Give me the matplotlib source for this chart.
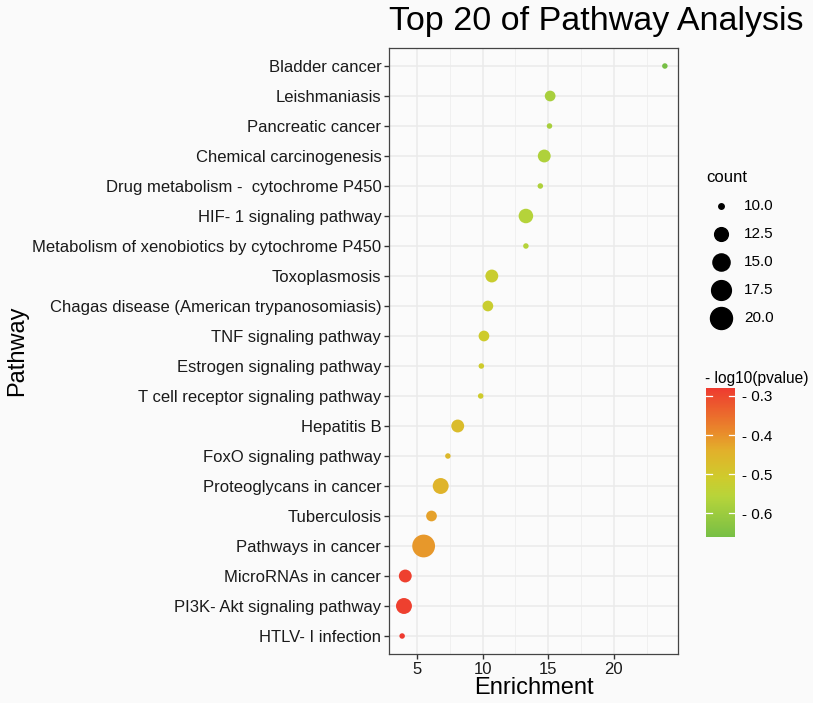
import numpy as np
import matplotlib
matplotlib.use("Agg")
import matplotlib.pyplot as plt
from matplotlib.colors import LinearSegmentedColormap, Normalize
from matplotlib.ticker import MultipleLocator

plt.rcParams['font.family'] = ['Liberation Sans', 'DejaVu Sans']

# pathways, top of the chart first
pathways = [
    "Bladder cancer", "Leishmaniasis", "Pancreatic cancer", "Chemical carcinogenesis",
    "Drug metabolism -  cytochrome P450", "HIF- 1 signaling pathway",
    "Metabolism of xenobiotics by cytochrome P450", "Toxoplasmosis",
    "Chagas disease (American trypanosomiasis)", "TNF signaling pathway",
    "Estrogen signaling pathway", "T cell receptor signaling pathway", "Hepatitis B",
    "FoxO signaling pathway", "Proteoglycans in cancer", "Tuberculosis",
    "Pathways in cancer", "MicroRNAs in cancer", "PI3K- Akt signaling pathway",
    "HTLV- I infection",
]
enrichment = [23.9, 15.15, 15.1, 14.7, 14.4, 13.3, 13.3, 10.7, 10.4, 10.1,
              9.9, 9.85, 8.1, 7.35, 6.8, 6.1, 5.5, 4.1, 4.0, 3.86]
count = [10, 11, 10, 12, 10, 13, 10, 12, 11, 11,
         10, 10, 12, 10, 14, 11, 21, 12, 14, 10]
logp = [-0.66, -0.58, -0.58, -0.57, -0.57, -0.56, -0.56, -0.52, -0.52, -0.51,
        -0.51, -0.51, -0.47, -0.46, -0.45, -0.42, -0.41, -0.29, -0.29, -0.28]

size_breaks = [10.0, 12.5, 15.0, 17.5, 20.0]
color_ticks = [-0.3, -0.4, -0.5, -0.6]
color_labels = ["- 0.3", "- 0.4", "- 0.5", "- 0.6"]

cmap = LinearSegmentedColormap.from_list("gr", [
    (0.0, "#77bf45"), (0.27, "#b7d43a"), (0.4, "#cfcb2c"),
    (0.58, "#e2b02b"), (0.7, "#e98c2b"), (1.0, "#ee3a2f")])

cmin, cmax = min(count), max(count)


def marker_area(c):
    # ggplot-like area scaling, diameter in px -> area in pt^2
    c = np.asarray(c, dtype=float)
    d_px = 5.5 + 17.3 * np.sqrt((c - cmin) / (cmax - cmin))
    return (d_px * 0.72) ** 2


fig = plt.figure(figsize=(8.13, 7.03), dpi=100, facecolor="#fafafa")
ax = fig.add_axes([389 / 813, 1 - 654 / 703, 289 / 813, 606 / 703])
ax.set_facecolor("#fbfbfb")

n = len(pathways)
ypos = np.arange(n)[::-1]
norm = Normalize(vmin=min(logp), vmax=max(logp))
sc = ax.scatter(enrichment, ypos, s=marker_area(count), c=logp, cmap=cmap,
                norm=norm, edgecolors="none", zorder=3)

span = max(enrichment) - min(enrichment)
ax.set_xlim(min(enrichment) - 0.05 * span, max(enrichment) + 0.05 * span)
ax.set_ylim(-0.6, n - 0.4)
ax.set_yticks(ypos)
ax.set_yticklabels(pathways)
ax.xaxis.set_major_locator(MultipleLocator(5))
ax.xaxis.set_minor_locator(MultipleLocator(2.5))
ax.grid(which="major", color="#ebebeb", linewidth=1.1, zorder=0)
ax.grid(which="minor", axis="x", color="#f0f0f0", linewidth=0.7, zorder=0)
ax.set_axisbelow(True)
ax.tick_params(axis="both", which="major", length=3.5, width=1.0, color="#333333",
               labelsize=12, labelcolor="#1a1a1a", pad=2)
ax.tick_params(axis="x", which="minor", length=0)
for sp in ax.spines.values():
    sp.set_color("#444444")
    sp.set_linewidth(0.9)

ax.set_xlabel("Enrichment", fontsize=17, labelpad=0)
ax.set_ylabel("Pathway", fontsize=17)
ax.yaxis.set_label_coords(-361 / 289, 0.5)
fig.text(389 / 813, 1 - 30 / 703, "Top 20 of Pathway Analysis", fontsize=24.5,
         ha="left", va="baseline")

# size legend
handles = [ax.scatter([], [], s=marker_area(b), color="black") for b in size_breaks]
leg = fig.legend(handles, [f"{b:.1f}" for b in size_breaks], title="count",
                 loc="upper left", bbox_to_anchor=(700 / 813, 1 - 164 / 703),
                 frameon=False, fontsize=11, title_fontsize=12,
                 labelspacing=0.92, handletextpad=0.5, borderaxespad=0,
                 alignment="left")

# colour legend
cax = fig.add_axes([706 / 813, 1 - 537 / 703, 29 / 813, 149 / 703])
cb = fig.colorbar(sc, cax=cax)
cb.outline.set_visible(False)
cb.set_ticks(color_ticks)
cb.set_ticklabels(color_labels)
cax.tick_params(length=0, labelsize=11, pad=5)
for t in color_ticks:
    cax.plot([0, 0.22], [t, t], color="white", lw=0.9, transform=cax.get_yaxis_transform())
    cax.plot([0.78, 1], [t, t], color="white", lw=0.9, transform=cax.get_yaxis_transform())
fig.text(705 / 813, 1 - 378 / 703, "- log10(pvalue)", fontsize=11.2, ha="left", va="center")

fig.savefig("out.png", dpi=100, facecolor=fig.get_facecolor())
